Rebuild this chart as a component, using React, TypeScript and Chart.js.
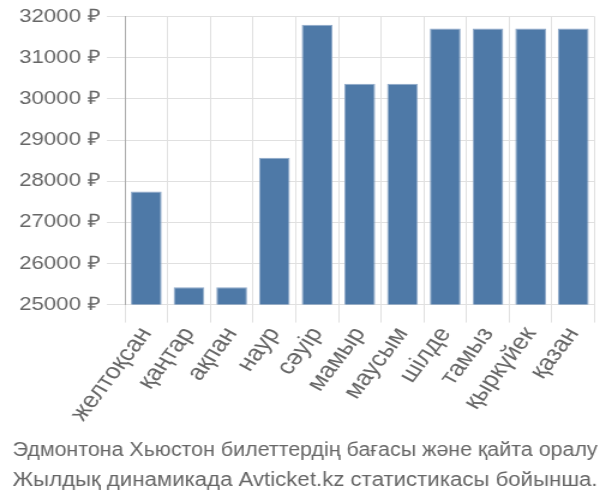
import React, { useEffect, useRef } from "react";
import { Chart, registerables } from "chart.js";

Chart.register(...registerables);

const categories = [
  "желтоқсан",
  "қаңтар",
  "ақпан",
  "наур",
  "сәуір",
  "мамыр",
  "маусым",
  "шілде",
  "тамыз",
  "қыркүйек",
  "қазан",
];

const prices = [27750, 25420, 25420, 28570, 31800, 30370, 30370, 31710, 31710, 31710, 31710];

const yTicks = [25000, 26000, 27000, 28000, 29000, 30000, 31000, 32000];

const captionLines = [
  "Эдмонтона Хьюстон билеттердің бағасы және қайта оралу",
  "Жылдық динамикада Avticket.kz статистикасы бойынша.",
];

const FONT = "'Liberation Sans', Arial, sans-serif";

export default function App() {
  const ref = useRef<HTMLCanvasElement | null>(null);

  useEffect(() => {
    if (!ref.current) return;
    const chart = new Chart(ref.current, {
      type: "bar",
      data: {
        labels: categories,
        datasets: [
          {
            data: prices,
            backgroundColor: "#4e79a7",
            borderColor: "#8fa9c9",
            borderWidth: 1,
            categoryPercentage: 1,
            barPercentage: 0.72,
          },
        ],
      },
      options: {
        animation: false,
        responsive: false,
        devicePixelRatio: 1,
        layout: { padding: { left: 10.5, right: 2, top: -2, bottom: 0 } },
        plugins: {
          legend: { display: false },
          tooltip: { enabled: false },
          title: {
            display: true,
            position: "bottom",
            text: captionLines,
            color: "#666",
            font: { family: FONT, size: 19.5, weight: "normal", lineHeight: 1.54 },
            padding: { top: 10, bottom: 4 },
          },
        },
        scales: {
          x: {
            grid: { color: "#e0e0e0", tickLength: 18, offset: true },
            border: { color: "#e0e0e0" },
            ticks: {
              color: "#666",
              font: { family: FONT, size: 22 },
              minRotation: 57,
              maxRotation: 57,
              autoSkip: false,
              padding: 0,
            },
          },
          y: {
            min: yTicks[0],
            max: yTicks[yTicks.length - 1],
            afterBuildTicks: (axis: any) => {
              axis.ticks = yTicks.map((v) => ({ value: v }));
            },
            grid: { color: "#e0e0e0", tickLength: 15 },
            border: { color: "#aaa" },
            ticks: {
              color: "#666",
              font: { family: FONT, size: 18.5 },
              padding: 5.5,
              callback: (v: any) => `${v} ₽`,
            },
          },
        },
      },
    });
    return () => chart.destroy();
  }, []);

  return (
    <div style={{ position: "absolute", left: 0, top: 0, width: 600, height: 500 }}>
      <canvas
        ref={ref}
        width={500}
        height={500}
        style={{ width: "600px", height: "500px", display: "block" }}
      />
    </div>
  );
}
